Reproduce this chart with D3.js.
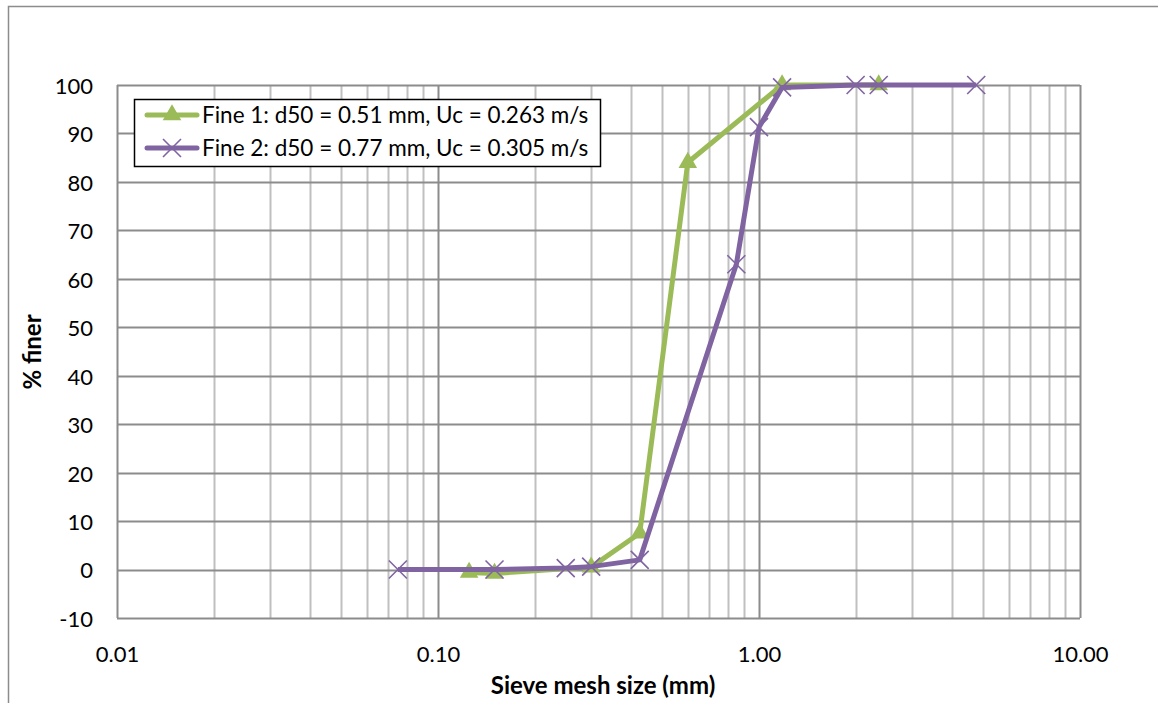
<!DOCTYPE html>
<html><head><meta charset="utf-8">
<script src="https://cdn.jsdelivr.net/npm/d3@7"></script>
<style>body{margin:0;background:#fff;} svg{display:block;font-family:Lato,"Open Sans",sans-serif;}</style>
</head><body>
<svg id="c" width="1158" height="703"></svg>
<script>
const fine1Size = [0.125, 0.15, 0.30, 0.425, 0.60, 1.18, 2.36];
const fine1Pct  = [-0.6, -0.8, 0.5, 7.5, 84, 100, 100];
const fine2Size = [0.075, 0.15, 0.25, 0.30, 0.425, 0.85, 1.0, 1.18, 2.0, 2.36, 4.75];
const fine2Pct  = [0, 0, 0.3, 0.6, 2, 63, 91.3, 99.5, 100, 100, 100];
const seriesNames = ["Fine 1: d50 = 0.51 mm, Uc = 0.263 m/s", "Fine 2: d50 = 0.77 mm, Uc = 0.305 m/s"];
const xTicks = [0.01, 0.1, 1, 10];
const yTicks = [-10, 0, 10, 20, 30, 40, 50, 60, 70, 80, 90, 100];

const svg = d3.select("#c");
const L = 117, R = 1080, T = 85, B = 618;
const x = d3.scaleLog().domain([0.01, 10]).range([L, R]);
const y = d3.scaleLinear().domain([-10, 100]).range([B, T]);

// outer chart border
svg.append("path").attr("d", `M8.5,${703}V6.5H1158`).attr("fill","none").attr("stroke","#8c8c8c").attr("stroke-width",1.5);

// minor vertical gridlines
const minor = [];
for (let d = 0.01; d < 10; d *= 10) for (let k = 2; k <= 9; k++) minor.push(d * k);
svg.append("g").selectAll("line").data(minor).join("line")
  .attr("x1", d => Math.round(x(d)) + 0.5).attr("x2", d => Math.round(x(d)) + 0.5)
  .attr("y1", T).attr("y2", B).attr("stroke", "#c0c0c0").attr("stroke-width", 2);
// major verticals
svg.append("g").selectAll("line").data(xTicks).join("line")
  .attr("x1", d => Math.round(x(d)) + 0.5).attr("x2", d => Math.round(x(d)) + 0.5)
  .attr("y1", T).attr("y2", B).attr("stroke", "#8c8c8c").attr("stroke-width", 2);
// horizontals
svg.append("g").selectAll("line").data(yTicks).join("line")
  .attr("x1", L).attr("x2", R)
  .attr("y1", d => Math.round(y(d)) + 0.5).attr("y2", d => Math.round(y(d)) + 0.5)
  .attr("stroke", "#8c8c8c").attr("stroke-width", 2);

// axes labels
const yAxis = d3.axisLeft(y).tickValues(yTicks).tickSize(0).tickPadding(24).tickFormat(d => String(d));
const gy = svg.append("g").attr("transform", `translate(${L},0)`).call(yAxis);
gy.select(".domain").remove();
gy.selectAll("text").attr("font-size", 22).attr("font-family", "Lato").attr("fill", "#000").attr("dy", "0.38em");

const xAxis = d3.axisBottom(x).tickValues(xTicks).tickSize(0).tickPadding(28).tickFormat(d3.format(".2f"));
const gx = svg.append("g").attr("transform", `translate(0,${B})`).call(xAxis);
gx.select(".domain").remove();
gx.selectAll("text").attr("font-size", 22).attr("font-family", "Lato").attr("fill", "#000");

svg.append("text").attr("x", 603).attr("y", 694).attr("text-anchor", "middle")
  .attr("font-weight", "bold").attr("font-size", 24).text("Sieve mesh size (mm)");
svg.append("text").attr("transform", "translate(41,352) rotate(-90)").attr("text-anchor", "middle")
  .attr("font-weight", "bold").attr("font-size", 24).text("% finer");

const green = "#9BBB59", purple = "#8064A2";
const line = d3.line().x(d => x(d[0])).y(d => y(d[1]));
const tri = d3.symbol().type(d3.symbolTriangle).size(150);
const cross = "M-9,-9L9,9M-9,9L9,-9";

const s1 = fine1Size.map((s, i) => [s, fine1Pct[i]]);
const s2 = fine2Size.map((s, i) => [s, fine2Pct[i]]);

svg.append("path").datum(s1).attr("d", line).attr("fill", "none").attr("stroke", green).attr("stroke-width", 5).attr("stroke-linejoin","round");
svg.append("g").selectAll("path").data(s1).join("path")
  .attr("transform", d => `translate(${x(d[0])},${y(d[1])})`).attr("d", tri).attr("fill", green);

svg.append("path").datum(s2).attr("d", line).attr("fill", "none").attr("stroke", purple).attr("stroke-width", 5).attr("stroke-linejoin","round");
svg.append("g").selectAll("path").data(s2).join("path")
  .attr("transform", d => `translate(${x(d[0])},${y(d[1])})`).attr("d", cross)
  .attr("fill", "none").attr("stroke", purple).attr("stroke-width", 1.6);

// legend
const lg = svg.append("g");
lg.append("rect").attr("x", 134.5).attr("y", 99.5).attr("width", 466).attr("height", 67)
  .attr("fill", "#fff").attr("stroke", "#000").attr("stroke-width", 1.5);
[[green, "tri"], [purple, "x"]].forEach((c, i) => {
  const cy = 115 + i * 33;
  lg.append("line").attr("x1", 147).attr("x2", 197).attr("y1", cy).attr("y2", cy)
    .attr("stroke", c[0]).attr("stroke-width", 5).attr("stroke-linecap", "round");
  if (c[1] === "tri") lg.append("path").attr("transform", `translate(172,${cy})`).attr("d", tri).attr("fill", c[0]);
  else lg.append("path").attr("transform", `translate(172,${cy})`).attr("d", cross).attr("fill","none").attr("stroke", c[0]).attr("stroke-width", 1.6);
  lg.append("text").attr("x", 202).attr("y", cy + 8).attr("font-size", 22.5).attr("fill", "#000").text(seriesNames[i]);
});
</script>
</body></html>
